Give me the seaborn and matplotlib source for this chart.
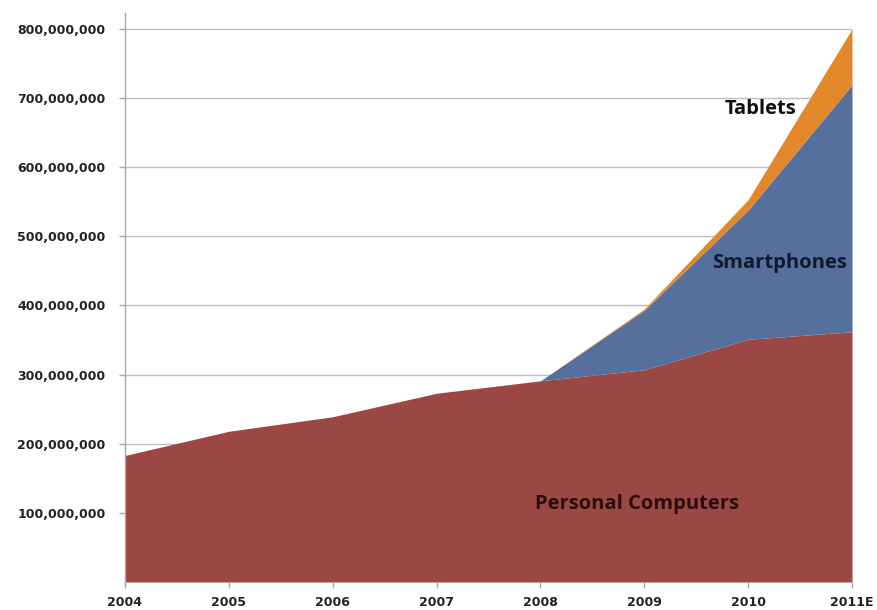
import matplotlib
matplotlib.use("Agg")
import matplotlib.pyplot as plt
import matplotlib.ticker as mticker
import numpy as np
import seaborn as sns

# Annual unit shipments by device type
years = ["2004", "2005", "2006", "2007", "2008", "2009", "2010", "2011E"]
personal_computers = [183e6, 218e6, 239e6, 273e6, 291e6, 307e6, 351e6, 362e6]
smartphones = [0, 0, 0, 0, 0, 86e6, 187e6, 357e6]
tablets = [0, 0, 0, 0, 0, 2e6, 15e6, 81e6]
y_ticks = [100e6, 200e6, 300e6, 400e6, 500e6, 600e6, 700e6, 800e6]

sns.set_theme(style="white")
plt.rcParams["font.family"] = ["DejaVu Sans"]

colors = ["#9B4844", "#56709E", "#E2882A"]

fig = plt.figure(figsize=(8.77, 6.10), dpi=100)
ax = fig.add_axes([0.1425, 0.0459, 0.829, 0.9328])

x = np.arange(len(years))
ax.stackplot(x, personal_computers, smartphones, tablets, colors=colors,
             linewidth=0, zorder=2)

ax.set_xlim(0, len(years) - 1)
ax.set_ylim(0, 823e6)
ax.set_xticks(x)
ax.set_xticklabels(years, fontsize=9, fontweight="bold", color="#222222")
ax.set_yticks(y_ticks)
ax.yaxis.set_major_formatter(mticker.FuncFormatter(lambda v, _: f"{int(v):,}"))
for lbl in ax.get_yticklabels():
    lbl.set_fontsize(9)
    lbl.set_fontweight("bold")
    lbl.set_color("#222222")

ax.grid(axis="y", color="#BDBDBD", linewidth=1.0, zorder=1)
ax.set_axisbelow(True)
ax.tick_params(axis="y", which="major", length=4, width=1, color="#A8A8A8",
               direction="out", left=True, pad=10)
ax.tick_params(axis="x", which="major", length=4, width=1, color="#A8A8A8",
               direction="out", bottom=True, pad=6)

for side in ["top", "right", "bottom"]:
    ax.spines[side].set_visible(False)
ax.spines["left"].set_color("#A8A8A8")
ax.spines["left"].set_linewidth(1)

# Series labels inside the areas
label_kw = dict(fontsize=14.5, fontweight="bold", family=["Open Sans", "DejaVu Sans"],
                ha="center", va="center", zorder=3)
ax.text(6.12, 684e6, "Tablets", color="#111111", **label_kw)
ax.text(6.3, 462e6, "Smartphones", color="#101830", **label_kw)
ax.text(4.93, 113e6, "Personal Computers", color="#2a0c0c", **label_kw)

fig.savefig("out.png", dpi=100)
